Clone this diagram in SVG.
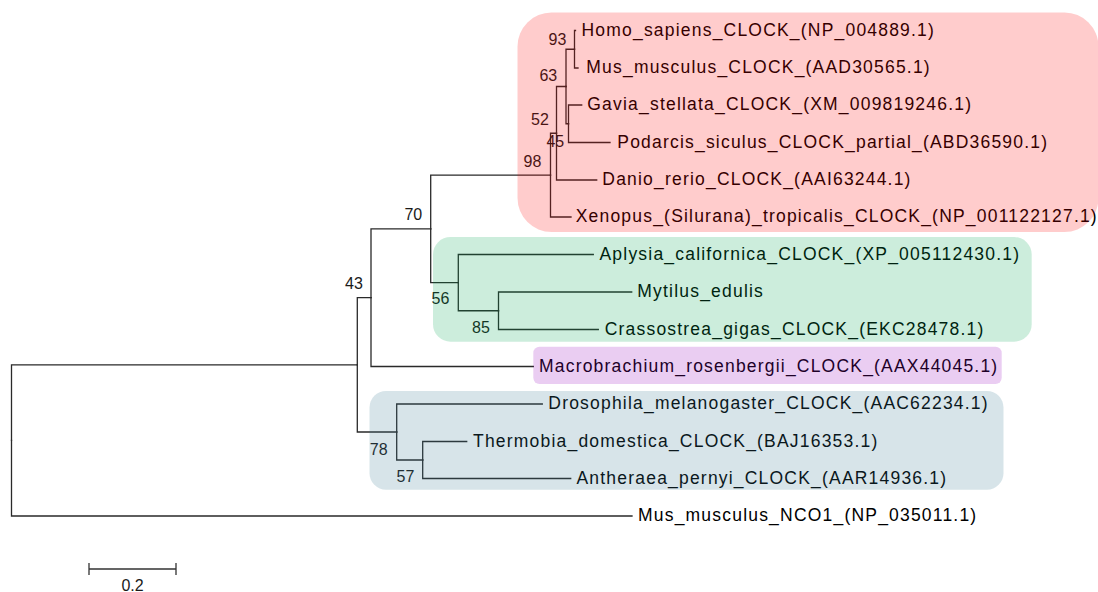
<svg xmlns="http://www.w3.org/2000/svg" width="1098" height="592" viewBox="0 0 1098 592">
  <style>
    .branch path { fill: none; stroke: #2a2a2a; stroke-width: 1.3; stroke-linecap: square; }
    .taxon { font-family: "Liberation Sans", Arial, sans-serif; font-size: 17.5px; letter-spacing: 1.2px; fill: #000; }
    .boot { font-family: "Liberation Sans", Arial, sans-serif; font-size: 16px; fill: #1a1a1a; text-anchor: middle; }
    .scale path { fill: none; stroke: #333; stroke-width: 1.3; }
    .hl { stroke: none; fill-opacity: 0.2; }
  </style>

  <rect width="1098" height="592" fill="#ffffff"/>

  <!-- tree branches: each path runs from a parent node to one child -->
  <g id="connectors" class="branch">
    <path d="M11.5 440.4 V364.85 H357.3"/>
    <path d="M11.5 440.4 V516 H632"/>
    <path d="M357.3 364.85 V297.7 H371"/>
    <path d="M357.3 364.85 V432 H396.7"/>
    <path d="M371 297.7 V228.9 H430.7"/>
    <path d="M371 297.7 V366.5 H533.3"/>
    <path d="M430.7 228.9 V175.1 H550.5"/>
    <path d="M430.7 228.9 V282.6 H458.3"/>
    <path d="M550.5 175.1 V133.25 H556.5"/>
    <path d="M550.5 175.1 V217 H571"/>
    <path d="M556.5 133.25 V86.5 H566"/>
    <path d="M556.5 133.25 V180 H596.7"/>
    <path d="M566 86.5 V49.25 H574.5"/>
    <path d="M566 86.5 V123.75 H568.5"/>
    <path d="M574.5 49.25 V30.5 H575.5"/>
    <path d="M574.5 49.25 V68 H578"/>
    <path d="M568.5 123.75 V105 H581.7"/>
    <path d="M568.5 123.75 V142.5 H610"/>
    <path d="M458.3 282.6 V254.5 H593.3"/>
    <path d="M458.3 282.6 V310.75 H498.5"/>
    <path d="M498.5 310.75 V292 H631.7"/>
    <path d="M498.5 310.75 V329.5 H598.3"/>
    <path d="M396.7 432 V404 H542.3"/>
    <path d="M396.7 432 V460 H422.7"/>
    <path d="M422.7 460 V441.5 H466.7"/>
    <path d="M422.7 460 V478.5 H570.7"/>
  </g>

  <!-- leaf labels -->
  <g id="taxa">
    <g id="homo-sapiens"><text class="taxon" x="581.5" y="35.5">Homo_sapiens_CLOCK_(NP_004889.1)</text></g>
    <g id="mus-musculus-clock"><text class="taxon" x="586.3" y="73">Mus_musculus_CLOCK_(AAD30565.1)</text></g>
    <g id="gavia-stellata"><text class="taxon" x="587.3" y="110">Gavia_stellata_CLOCK_(XM_009819246.1)</text></g>
    <g id="podarcis-siculus"><text class="taxon" x="617.3" y="147.5">Podarcis_siculus_CLOCK_partial_(ABD36590.1)</text></g>
    <g id="danio-rerio"><text class="taxon" x="602.3" y="185">Danio_rerio_CLOCK_(AAI63244.1)</text></g>
    <g id="xenopus-tropicalis"><text class="taxon" x="575.7" y="222">Xenopus_(Silurana)_tropicalis_CLOCK_(NP_001122127.1)</text></g>
    <g id="aplysia-californica"><text class="taxon" x="599.5" y="259.5">Aplysia_californica_CLOCK_(XP_005112430.1)</text></g>
    <g id="mytilus-edulis"><text class="taxon" x="637.3" y="297">Mytilus_edulis</text></g>
    <g id="crassostrea-gigas"><text class="taxon" x="604.7" y="334.5">Crassostrea_gigas_CLOCK_(EKC28478.1)</text></g>
    <g id="macrobrachium-rosenbergii"><text class="taxon" x="539" y="371.5">Macrobrachium_rosenbergii_CLOCK_(AAX44045.1)</text></g>
    <g id="drosophila-melanogaster"><text class="taxon" x="548.3" y="409">Drosophila_melanogaster_CLOCK_(AAC62234.1)</text></g>
    <g id="thermobia-domestica"><text class="taxon" x="473" y="446.5">Thermobia_domestica_CLOCK_(BAJ16353.1)</text></g>
    <g id="antheraea-pernyi"><text class="taxon" x="576.5" y="483.5">Antheraea_pernyi_CLOCK_(AAR14936.1)</text></g>
    <g id="mus-musculus-nco1"><text class="taxon" x="638" y="521">Mus_musculus_NCO1_(NP_035011.1)</text></g>
  </g>

  <!-- bootstrap support at internal nodes -->
  <g id="support">
    <g id="node-93"><text class="boot" x="557.5" y="45">93</text></g>
    <g id="node-63"><text class="boot" x="548.3" y="81">63</text></g>
    <g id="node-52"><text class="boot" x="540" y="125">52</text></g>
    <g id="node-45"><text class="boot" x="555.3" y="146.7">45</text></g>
    <g id="node-98"><text class="boot" x="532.5" y="166.7">98</text></g>
    <g id="node-70"><text class="boot" x="413.3" y="220">70</text></g>
    <g id="node-43"><text class="boot" x="354" y="289">43</text></g>
    <g id="node-56"><text class="boot" x="440.5" y="304.3">56</text></g>
    <g id="node-85"><text class="boot" x="481" y="332.7">85</text></g>
    <g id="node-78"><text class="boot" x="378.7" y="455">78</text></g>
    <g id="node-57"><text class="boot" x="405.5" y="482.3">57</text></g>
  </g>

  <!-- scale bar -->
  <g id="scale-bar" class="scale">
    <path d="M89 569 H176 M89 563 V575 M176 563 V575"/>
    <text class="boot" x="132.5" y="591">0.2</text>
  </g>

  <!-- translucent clade highlights laid over the tree -->
  <g id="clade-highlights">
    <rect class="hl" x="517.5" y="12.5" width="581" height="219.5" rx="34" fill="#ff0000"/>
    <rect class="hl" x="433" y="237" width="598.7" height="104.7" rx="17.5" fill="#00a550"/>
    <rect class="hl" x="533.3" y="346.7" width="468.4" height="37.3" rx="6.2" fill="#9605be"/>
    <rect class="hl" x="369.5" y="391" width="634" height="98.7" rx="16.5" fill="#377891"/>
  </g>
</svg>
